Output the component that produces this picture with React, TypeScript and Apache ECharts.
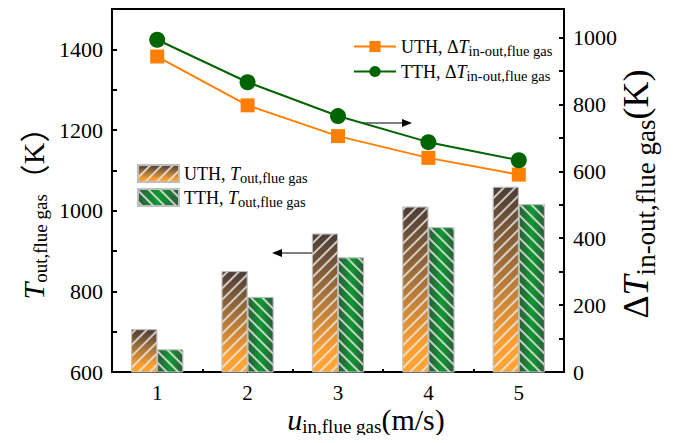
import React, { useEffect, useRef } from 'react';
import * as echarts from 'echarts';

// ---- data ----
const categories = ['1', '2', '3', '4', '5'];
// outlet flue-gas temperature (left axis, K)
const uthOutlet = [706, 850, 943, 1010, 1059];
const tthOutlet = [656, 786, 884, 959, 1016];
// in-out temperature difference (right axis, K)
const uthDelta = [943, 797, 705, 640, 590];
const tthDelta = [993, 866, 765, 687, 633];
// axis ticks
const leftMin = 600;
const leftMax = 1500;
const rightMin = 0;
const rightMax = 1085;
const tickStep = 100;
const labelStep = 200;

const FONT = 'Liberation Serif, Times New Roman, serif';
const CJK = 'Noto Sans CJK SC, Liberation Serif, serif';

const mainRich = (size: number, sub: number, pad: number, lh: number) => ({
  n: { fontSize: size, fontFamily: FONT, fill: '#000', color: '#000', lineHeight: lh },
  i: { fontSize: size, fontFamily: FONT, fontStyle: 'italic', fill: '#000', color: '#000', lineHeight: lh },
  s: { fontSize: sub, fontFamily: FONT, fill: '#000', color: '#000', lineHeight: lh, padding: [pad, 0, 0, 0] },
  c: { fontSize: size, fontFamily: CJK, fill: '#000', color: '#000', lineHeight: lh },
});

export default function App() {
  const ref = useRef<HTMLDivElement>(null);
  useEffect(() => {
    if (!ref.current) return;
    const chart = echarts.init(ref.current, undefined, { renderer: 'svg' });

    const uthBarColor = {
      type: 'linear', x: 0, y: 0, x2: 0, y2: 1,
      colorStops: [
        { offset: 0, color: '#4a3c36' },
        { offset: 0.45, color: '#a8743a' },
        { offset: 0.85, color: '#ffa030' },
        { offset: 1, color: '#ffa532' },
      ],
    };
    const tthBarColor = {
      type: 'linear', x: 0, y: 0, x2: 1, y2: 0,
      colorStops: [
        { offset: 0, color: '#2f5a3a' },
        { offset: 0.5, color: '#0d9a30' },
        { offset: 1, color: '#2f5a3a' },
      ],
    };
    const decalBase = {
      symbol: 'rect',
      symbolSize: 1,
      dashArrayX: [1, 0],
      dashArrayY: [1.3, 5.5],
      color: 'rgba(235,235,235,0.8)',
    };

    const axisLabelFmt = (max: number) => (v: number) =>
      v % labelStep === 0 && v <= max ? String(v) : '';

    const option: any = {
      animation: false,
      backgroundColor: '#fff',
      textStyle: { fontFamily: FONT },
      grid: {
        left: 112, right: 109, top: 9, bottom: 71,
        show: true, borderColor: '#000', borderWidth: 2,
      },
      legend: [
        {
          data: ['UTH_d', 'TTH_d'],
          orient: 'vertical',
          left: 353, top: 35, padding: 0,
          itemWidth: 42, itemHeight: 14, itemGap: 2,
          formatter: (name: string) =>
            name === 'UTH_d'
              ? '{n|UTH, Δ}{i|T}{s|in-out,flue gas}'
              : '{n|TTH, Δ}{i|T}{s|in-out,flue gas}',
          textStyle: { fontFamily: FONT, rich: mainRich(18, 14.5, 8, 28) },
        },
        {
          data: ['UTH_o', 'TTH_o'],
          orient: 'vertical',
          left: 137, top: 162, padding: 0,
          itemWidth: 41, itemHeight: 17, itemGap: 1,
          icon: 'rect',
          formatter: (name: string) =>
            name === 'UTH_o'
              ? '{n|UTH, }{i|T}{s|out,flue gas}'
              : '{n|TTH, }{i|T}{s|out,flue gas}',
          textStyle: { fontFamily: FONT, rich: mainRich(18, 14.5, 8, 28) },
        },
      ],
      xAxis: [
        {
          type: 'category',
          data: categories,
          boundaryGap: true,
          axisLine: { show: true, lineStyle: { color: '#000', width: 2 } },
          axisTick: { show: true, inside: true, alignWithLabel: true, length: 6, lineStyle: { color: '#000', width: 2 } },
          axisLabel: { color: '#000', fontSize: 21, fontFamily: FONT, margin: 10 },
          splitLine: { show: false },
        },
        {
          type: 'category',
          data: categories,
          position: 'bottom',
          boundaryGap: true,
          axisLine: { show: false },
          axisTick: { show: true, inside: true, length: 3, lineStyle: { color: '#000', width: 2 } },
          axisLabel: { show: false },
          splitLine: { show: false },
        },
      ],
      yAxis: [
        {
          type: 'value',
          position: 'left',
          min: leftMin, max: leftMax, interval: tickStep,
          axisLine: { show: true, lineStyle: { color: '#000', width: 2 } },
          axisTick: { show: true, inside: true, length: 5, lineStyle: { color: '#000', width: 2 } },
          axisLabel: { color: '#000', fontSize: 22, fontFamily: FONT, margin: 9, formatter: axisLabelFmt(1400) },
          splitLine: { show: false },
        },
        {
          type: 'value',
          position: 'right',
          min: rightMin, max: rightMax, interval: tickStep,
          axisLine: { show: true, lineStyle: { color: '#000', width: 2 } },
          axisTick: { show: true, inside: true, length: 5, lineStyle: { color: '#000', width: 2 } },
          axisLabel: { color: '#000', fontSize: 22, fontFamily: FONT, margin: 9, formatter: axisLabelFmt(1000) },
          splitLine: { show: false },
        },
      ],
      series: [
        {
          name: 'UTH_o',
          type: 'bar',
          xAxisIndex: 0, yAxisIndex: 0,
          data: uthOutlet,
          barWidth: 26,
          barGap: '0%',
          itemStyle: {
            color: uthBarColor,
            borderColor: 'rgba(190,190,190,0.9)', borderWidth: 0.8,
            decal: { ...decalBase, rotation: -Math.PI / 4 },
          },
          z: 2,
        },
        {
          name: 'TTH_o',
          type: 'bar',
          xAxisIndex: 0, yAxisIndex: 0,
          data: tthOutlet,
          barWidth: 26,
          barGap: '0%',
          itemStyle: {
            color: tthBarColor,
            borderColor: 'rgba(190,190,190,0.9)', borderWidth: 0.8,
            decal: { ...decalBase, rotation: Math.PI / 4 },
          },
          z: 2,
        },
        {
          name: 'UTH_d',
          type: 'line',
          xAxisIndex: 0, yAxisIndex: 1,
          data: uthDelta,
          symbol: 'rect', symbolSize: 14,
          color: '#ff8000',
          itemStyle: { color: '#ff8000' },
          lineStyle: { color: '#ff8000', width: 2 },
          z: 5,
        },
        {
          name: 'TTH_d',
          type: 'line',
          xAxisIndex: 0, yAxisIndex: 1,
          data: tthDelta,
          symbol: 'circle', symbolSize: 16,
          color: '#006400',
          itemStyle: { color: '#006400' },
          lineStyle: { color: '#006400', width: 2 },
          z: 5,
        },
      ],
      graphic: [
        // left axis title
        {
          type: 'text', x: 33, y: 206, rotation: Math.PI / 2,
          style: {
            text: '{i|T}{s|out,flue gas}{c|（}{n|K}{c|）}',
            rich: mainRich(30, 19, 15, 34),
            align: 'center', verticalAlign: 'middle',
          },
        },
        // right axis title
        {
          type: 'text', x: 636, y: 194, rotation: Math.PI / 2,
          style: {
            text: '{n|Δ}{i|T}{s|in-out,flue gas}{n|(K)}',
            rich: mainRich(36, 27, 20, 40),
            align: 'center', verticalAlign: 'middle',
          },
        },
        // x axis title
        {
          type: 'text', x: 366, y: 419,
          style: {
            text: '{i|u}{s|in,flue gas}{n|(m/s)}',
            rich: mainRich(30, 19, 15, 34),
            align: 'center', verticalAlign: 'middle',
          },
        },
        // arrow pointing to right axis
        { type: 'line', shape: { x1: 362, y1: 123, x2: 404, y2: 123 }, style: { stroke: '#000', lineWidth: 1 } },
        { type: 'polygon', shape: { points: [[402, 119], [412, 123], [402, 127]] }, style: { fill: '#000' } },
        // arrow pointing to left axis
        { type: 'line', shape: { x1: 280, y1: 253, x2: 313, y2: 253 }, style: { stroke: '#000', lineWidth: 1 } },
        { type: 'polygon', shape: { points: [[272, 253], [282, 249], [282, 257]] }, style: { fill: '#000' } },
      ],
    };

    chart.setOption(option);
    return () => chart.dispose();
  }, []);

  return <div ref={ref} style={{ width: 673, height: 443, margin: -8 }} />;
}
